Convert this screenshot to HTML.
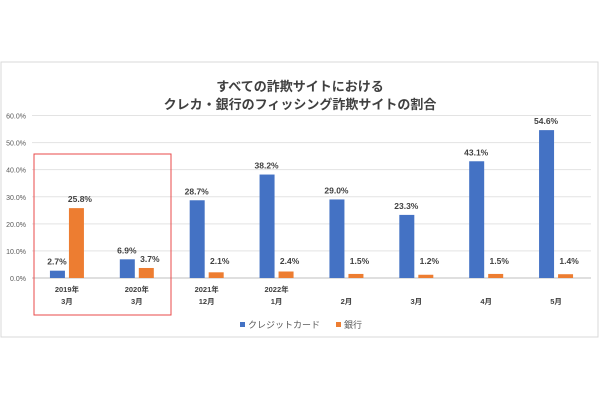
<!DOCTYPE html>
<html><head><meta charset="utf-8"><style>
body{margin:0;background:#fff;}
svg text{font-family:"Liberation Sans","Noto Sans CJK JP",sans-serif;}
</style></head><body>
<svg width="600" height="400" viewBox="0 0 600 400" xmlns="http://www.w3.org/2000/svg">
<rect x="1" y="62" width="597" height="275" fill="#fff" stroke="#d9d9d9"/>
<text x="300" y="91" text-anchor="middle" font-size="13" font-weight="bold" fill="#404040">すべての詐欺サイトにおける</text>
<text x="300" y="109" text-anchor="middle" font-size="13" font-weight="bold" fill="#404040">クレカ・銀行のフィッシング詐欺サイトの割合</text>
<g id="grid"></g><g id="bars"></g><g id="labels"></g>
<rect x="34" y="154" width="137" height="161" fill="none" stroke="#e84a4a" stroke-width="1"/>
<rect x="240" y="322" width="5" height="5" fill="#4472c4"/>
<text x="248" y="328" font-size="9" fill="#595959">クレジットカード</text>
<rect x="336" y="322" width="5" height="5" fill="#ed7d31"/>
<text x="344" y="328" font-size="9" fill="#595959">銀行</text>
<script>
const categories=[["2019年","3月"],["2020年","3月"],["2021年","12月"],["2022年","1月"],["","2月"],["","3月"],["","4月"],["","5月"]];
const credit=[2.7,6.9,28.7,38.2,29.0,23.3,43.1,54.6];
const bank=[25.8,3.7,2.1,2.4,1.5,1.2,1.5,1.4];
const ticks=[0,10,20,30,40,50,60];
const ns="http://www.w3.org/2000/svg";
const x0=32,x1=591,yb=278,yt=115.5,ymax=60;
const y=v=>yb-(v/ymax)*(yb-yt);
const bw=(x1-x0)/categories.length;
const cx=i=>x0+bw*i+bw/2;
function mk(t,a,p){const e=document.createElementNS(ns,t);for(const k in a)e.setAttribute(k,a[k]);p.appendChild(e);return e;}
const g=document.getElementById('grid'),b=document.getElementById('bars'),l=document.getElementById('labels');
ticks.forEach(t=>{
 const ln=mk('line',{x1:x0,x2:x1,y1:y(t),y2:y(t),stroke:t===0?'#bfbfbf':'#e3e3e3'},g);
 
 
 const tx=mk('text',{x:26,y:y(t)+3,'text-anchor':'end','font-size':'7',fill:'#595959'},g);
 tx.textContent=t.toFixed(1)+'%';
 
 
});
categories.forEach((c,i)=>{
 const c1=credit[i],c2=bank[i];
 const r1=mk('rect',{x:cx(i)-17,y:y(c1),width:15,height:yb-y(c1),fill:'#4472c4'},b);
 
 
 const r2=mk('rect',{x:cx(i)+2,y:y(c2),width:15,height:yb-y(c2),fill:'#ed7d31'},b);
 
 
 const t1=mk('text',{x:cx(i)-10,y:y(c1)-6,'text-anchor':'middle','font-size':'8.5','font-weight':'bold',fill:'#404040'},l);
 t1.textContent=c1.toFixed(1)+'%';
 
 
 const t2=mk('text',{x:cx(i)+13,y:Math.min(y(c2)-6,yb-14),'text-anchor':'middle','font-size':'8.5','font-weight':'bold',fill:'#404040'},l);
 t2.textContent=c2.toFixed(1)+'%';
 
 
 c.forEach((s,j)=>{if(!s)return;
  const ct=mk('text',{x:cx(i),y:292+j*12,'text-anchor':'middle','font-size':'7.5','font-weight':'bold',fill:'#404040'},l);
  ct.textContent=s;
  
  
 });
});
</script>
</svg>
</body></html>
